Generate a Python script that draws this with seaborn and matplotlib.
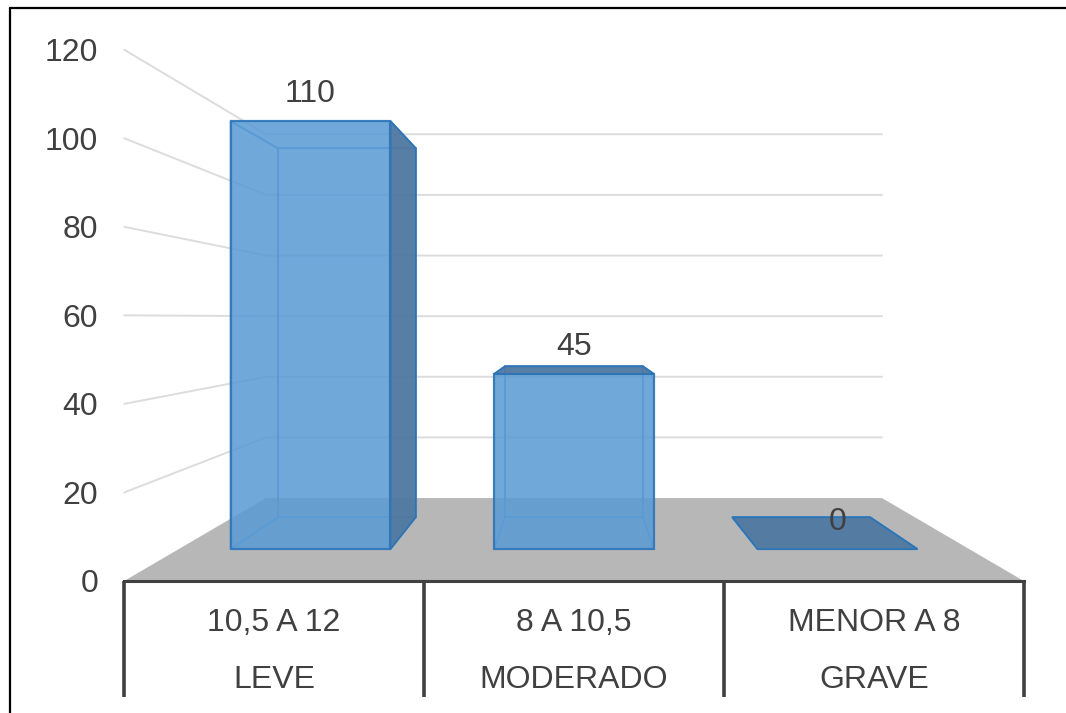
import matplotlib
matplotlib.use("Agg")
import matplotlib.pyplot as plt
from matplotlib.lines import Line2D
from matplotlib.patches import Polygon
import pandas as pd
import seaborn as sns

# ---------- data ----------
ranges = ["10,5 A 12", "8 A 10,5", "MENOR A 8"]
severity = ["LEVE", "MODERADO", "GRAVE"]
counts = [110, 45, 0]
value_ticks = [0, 20, 40, 60, 80, 100, 120]

# ---------- pseudo-3D projection (depth 0 = bar front plane) ----------
SHRINK = 0.138      # scale lost per unit of depth
LIFT = 8.2          # upward shift per unit of depth, value units
FLOOR_FRONT = -1.0
FLOOR_BACK = 1.6
BAR_DEPTH = 1.0
BAR_WIDTH = 0.607
X_LO, X_HI = -0.5, 2.5


def project(x, v, d):
    s = 1 - SHRINK * d
    return 1 + (x - 1) * s, v * s + LIFT * d


TEXT = "#404040"
FONT = 23

sns.set_theme(style="white")
plt.rcParams["font.family"] = ["Liberation Sans", "DejaVu Sans"]

fig = plt.figure(figsize=(10.66, 7.13), dpi=100)
ax = fig.add_axes([123 / 1066, (713 - 581) / 713, 1 - 123 / 1066, 581 / 713])

df = pd.DataFrame({"rango": ranges, "n": counts})
sns.barplot(data=df, x="rango", y="n", color="#5b9bd5", saturation=1, alpha=0.85,
            width=BAR_WIDTH, edgecolor="#2e75b6", linewidth=1.6, zorder=5, ax=ax)

# view limits matching the front plane of the bars
ax.set_xlim((123.5 - 574.5) / 263.5 + 1, (1066.5 - 574.5) / 263.5 + 1)
ax.set_ylim(project(0, 0, FLOOR_FRONT)[1], 549 / 3.89)

# floor
ax.add_patch(Polygon([project(X_LO, 0, FLOOR_FRONT), project(X_HI, 0, FLOOR_FRONT),
                      project(X_HI, 0, FLOOR_BACK), project(X_LO, 0, FLOOR_BACK)],
                     closed=True, facecolor="#b7b7b7", edgecolor="none", zorder=1))

# gridlines on side wall and back wall
for v in value_ticks[1:]:
    pts = [project(X_LO, v, FLOOR_FRONT), project(X_LO, v, FLOOR_BACK), project(X_HI, v, FLOOR_BACK)]
    ax.plot([p[0] for p in pts], [p[1] for p in pts], color="#dcdcdc", lw=1.4, zorder=1.5,
            clip_on=False, solid_joinstyle="miter")

# remaining faces of each bar
for i, n in enumerate(counts):
    xl, xr = i - BAR_WIDTH / 2, i + BAR_WIDTH / 2
    fbl, fbr, ftl, ftr = (project(xl, 0, 0), project(xr, 0, 0), project(xl, n, 0), project(xr, n, 0))
    bbl, bbr, btl, btr = (project(xl, 0, BAR_DEPTH), project(xr, 0, BAR_DEPTH),
                          project(xl, n, BAR_DEPTH), project(xr, n, BAR_DEPTH))
    inner = dict(facecolor=(0.36, 0.61, 0.84, 0.12), edgecolor="#5b9bd5", linewidth=1.2, zorder=3)
    outer = dict(facecolor=(0.31, 0.47, 0.63, 0.95), edgecolor="#2e75b6", linewidth=1.3, zorder=6)
    ax.add_patch(Polygon([bbl, bbr, btr, btl], closed=True, **inner))
    ax.add_patch(Polygon([fbl, fbr, bbr, bbl], closed=True, **inner))
    ax.add_patch(Polygon([fbl, bbl, btl, ftl], closed=True, **inner))
    if btr[0] > ftr[0]:
        ax.add_patch(Polygon([fbr, bbr, btr, ftr], closed=True, **outer))
    else:
        ax.add_patch(Polygon([fbr, bbr, btr, ftr], closed=True, **inner))
    if btl[1] > ftl[1] or n == 0:
        ax.add_patch(Polygon([ftl, ftr, btr, btl], closed=True, **outer))
    else:
        ax.add_patch(Polygon([ftl, ftr, btr, btl], closed=True, **inner))

# value labels
ax.bar_label(ax.containers[0], labels=[str(c) for c in counts], padding=9,
             fontsize=FONT, color=TEXT, zorder=8)

# value axis: ticks on the front-left corner of the floor
ax.set_yticks([project(X_LO, v, FLOOR_FRONT)[1] for v in value_ticks])
ax.set_yticklabels([str(v) for v in value_ticks])

# category axis: two-level labels at the floor's front edge
ax.set_xticks([project(i, 0, FLOOR_FRONT)[0] for i in range(len(ranges))])
ax.set_xticklabels([f"{r}\n{s}" for r, s in zip(ranges, severity)], linespacing=2.16)
ax.tick_params(axis="y", length=0, pad=17.8, labelsize=FONT, labelcolor=TEXT)
ax.tick_params(axis="x", length=0, pad=19.7, labelsize=FONT, labelcolor=TEXT)
ax.set_xlabel("")
ax.set_ylabel("")
sns.despine(ax=ax, left=True, bottom=True)

# front floor edge and category separators
y0 = project(0, 0, FLOOR_FRONT)[1]
ax.plot([project(X_LO, 0, FLOOR_FRONT)[0], project(X_HI, 0, FLOOR_FRONT)[0]], [y0, y0],
        color=TEXT, lw=2.2, clip_on=False, zorder=7, solid_capstyle="projecting")
for b in [X_LO, X_LO + 1, X_LO + 2, X_HI]:
    xb = project(b, 0, FLOOR_FRONT)[0]
    ax.plot([xb, xb], [y0, (549 - 697) / 3.89], color=TEXT, lw=2.6, clip_on=False, zorder=7,
            solid_capstyle="butt")

# picture border (left and top only, as cropped in the original)
fig.add_artist(Line2D([10 / 1066, 10 / 1066], [0, 1 - 8 / 713], color="black", lw=1.6))
fig.add_artist(Line2D([10 / 1066, 1], [1 - 8 / 713, 1 - 8 / 713], color="black", lw=1.6))

fig.savefig("out.png", dpi=100)
